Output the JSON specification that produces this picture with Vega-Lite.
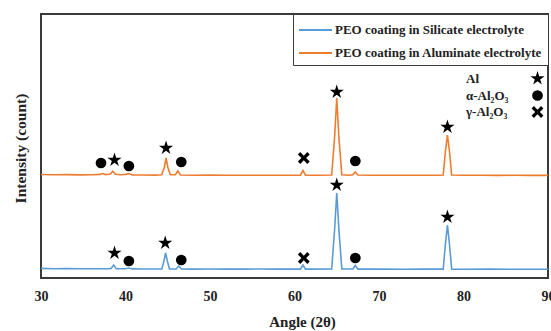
{
  "$schema": "https://vega.github.io/schema/vega-lite/v6.json",
  "width": 507,
  "height": 264,
  "autosize": {"type": "none"},
  "padding": {"left": 41, "top": 14, "right": 3, "bottom": 53},
  "background": "white",
  "config": {
    "view": {"stroke": "#3a3a3a", "strokeWidth": 2},
    "font": "Liberation Serif"
  },
  "datasets": {
    "spectra": [
      {"s": "PEO coating in Aluminate electrolyte", "a": 30, "i": 1025},
      {"s": "PEO coating in Aluminate electrolyte", "a": 31.5, "i": 1022},
      {"s": "PEO coating in Aluminate electrolyte", "a": 33, "i": 1024},
      {"s": "PEO coating in Aluminate electrolyte", "a": 34.5, "i": 1021},
      {"s": "PEO coating in Aluminate electrolyte", "a": 36, "i": 1023},
      {"s": "PEO coating in Aluminate electrolyte", "a": 37, "i": 1026},
      {"s": "PEO coating in Aluminate electrolyte", "a": 37.3, "i": 1035},
      {"s": "PEO coating in Aluminate electrolyte", "a": 37.6, "i": 1024},
      {"s": "PEO coating in Aluminate electrolyte", "a": 38.2, "i": 1030},
      {"s": "PEO coating in Aluminate electrolyte", "a": 38.5, "i": 1058},
      {"s": "PEO coating in Aluminate electrolyte", "a": 38.8, "i": 1028},
      {"s": "PEO coating in Aluminate electrolyte", "a": 39.5, "i": 1022},
      {"s": "PEO coating in Aluminate electrolyte", "a": 40, "i": 1026},
      {"s": "PEO coating in Aluminate electrolyte", "a": 40.4, "i": 1034},
      {"s": "PEO coating in Aluminate electrolyte", "a": 40.8, "i": 1020},
      {"s": "PEO coating in Aluminate electrolyte", "a": 42, "i": 1020},
      {"s": "PEO coating in Aluminate electrolyte", "a": 43.5, "i": 1019},
      {"s": "PEO coating in Aluminate electrolyte", "a": 44.3, "i": 1022},
      {"s": "PEO coating in Aluminate electrolyte", "a": 44.6, "i": 1100},
      {"s": "PEO coating in Aluminate electrolyte", "a": 44.8, "i": 1190},
      {"s": "PEO coating in Aluminate electrolyte", "a": 45.0, "i": 1100},
      {"s": "PEO coating in Aluminate electrolyte", "a": 45.3, "i": 1022},
      {"s": "PEO coating in Aluminate electrolyte", "a": 45.9, "i": 1022},
      {"s": "PEO coating in Aluminate electrolyte", "a": 46.2, "i": 1060},
      {"s": "PEO coating in Aluminate electrolyte", "a": 46.5, "i": 1020},
      {"s": "PEO coating in Aluminate electrolyte", "a": 48, "i": 1018},
      {"s": "PEO coating in Aluminate electrolyte", "a": 50, "i": 1019},
      {"s": "PEO coating in Aluminate electrolyte", "a": 52, "i": 1017},
      {"s": "PEO coating in Aluminate electrolyte", "a": 54, "i": 1018},
      {"s": "PEO coating in Aluminate electrolyte", "a": 56, "i": 1017},
      {"s": "PEO coating in Aluminate electrolyte", "a": 58, "i": 1018},
      {"s": "PEO coating in Aluminate electrolyte", "a": 60, "i": 1017},
      {"s": "PEO coating in Aluminate electrolyte", "a": 60.7, "i": 1018},
      {"s": "PEO coating in Aluminate electrolyte", "a": 61.0, "i": 1065},
      {"s": "PEO coating in Aluminate electrolyte", "a": 61.3, "i": 1018},
      {"s": "PEO coating in Aluminate electrolyte", "a": 62, "i": 1017},
      {"s": "PEO coating in Aluminate electrolyte", "a": 63, "i": 1018},
      {"s": "PEO coating in Aluminate electrolyte", "a": 64.4, "i": 1020},
      {"s": "PEO coating in Aluminate electrolyte", "a": 64.75, "i": 1400},
      {"s": "PEO coating in Aluminate electrolyte", "a": 65.0, "i": 1790},
      {"s": "PEO coating in Aluminate electrolyte", "a": 65.25, "i": 1400},
      {"s": "PEO coating in Aluminate electrolyte", "a": 65.6, "i": 1022},
      {"s": "PEO coating in Aluminate electrolyte", "a": 66.5, "i": 1018},
      {"s": "PEO coating in Aluminate electrolyte", "a": 66.9, "i": 1022},
      {"s": "PEO coating in Aluminate electrolyte", "a": 67.2, "i": 1050},
      {"s": "PEO coating in Aluminate electrolyte", "a": 67.5, "i": 1020},
      {"s": "PEO coating in Aluminate electrolyte", "a": 69, "i": 1017},
      {"s": "PEO coating in Aluminate electrolyte", "a": 71, "i": 1018},
      {"s": "PEO coating in Aluminate electrolyte", "a": 73, "i": 1017},
      {"s": "PEO coating in Aluminate electrolyte", "a": 75, "i": 1018},
      {"s": "PEO coating in Aluminate electrolyte", "a": 77, "i": 1017},
      {"s": "PEO coating in Aluminate electrolyte", "a": 77.6, "i": 1020},
      {"s": "PEO coating in Aluminate electrolyte", "a": 77.85, "i": 1250},
      {"s": "PEO coating in Aluminate electrolyte", "a": 78.1, "i": 1420},
      {"s": "PEO coating in Aluminate electrolyte", "a": 78.35, "i": 1250},
      {"s": "PEO coating in Aluminate electrolyte", "a": 78.6, "i": 1020},
      {"s": "PEO coating in Aluminate electrolyte", "a": 80, "i": 1017},
      {"s": "PEO coating in Aluminate electrolyte", "a": 82, "i": 1018},
      {"s": "PEO coating in Aluminate electrolyte", "a": 84, "i": 1016},
      {"s": "PEO coating in Aluminate electrolyte", "a": 86, "i": 1017},
      {"s": "PEO coating in Aluminate electrolyte", "a": 88, "i": 1016},
      {"s": "PEO coating in Aluminate electrolyte", "a": 90, "i": 1016},
      {"s": "PEO coating in Silicate electrolyte", "a": 30, "i": 86},
      {"s": "PEO coating in Silicate electrolyte", "a": 31.5, "i": 83},
      {"s": "PEO coating in Silicate electrolyte", "a": 33, "i": 84},
      {"s": "PEO coating in Silicate electrolyte", "a": 34.5, "i": 82},
      {"s": "PEO coating in Silicate electrolyte", "a": 36, "i": 83},
      {"s": "PEO coating in Silicate electrolyte", "a": 38, "i": 82},
      {"s": "PEO coating in Silicate electrolyte", "a": 38.3, "i": 86},
      {"s": "PEO coating in Silicate electrolyte", "a": 38.6, "i": 120},
      {"s": "PEO coating in Silicate electrolyte", "a": 38.9, "i": 84},
      {"s": "PEO coating in Silicate electrolyte", "a": 40, "i": 82},
      {"s": "PEO coating in Silicate electrolyte", "a": 40.4, "i": 90},
      {"s": "PEO coating in Silicate electrolyte", "a": 40.8, "i": 81},
      {"s": "PEO coating in Silicate electrolyte", "a": 42, "i": 80},
      {"s": "PEO coating in Silicate electrolyte", "a": 44.3, "i": 81},
      {"s": "PEO coating in Silicate electrolyte", "a": 44.55, "i": 160},
      {"s": "PEO coating in Silicate electrolyte", "a": 44.75, "i": 240},
      {"s": "PEO coating in Silicate electrolyte", "a": 44.95, "i": 160},
      {"s": "PEO coating in Silicate electrolyte", "a": 45.2, "i": 81},
      {"s": "PEO coating in Silicate electrolyte", "a": 46, "i": 80},
      {"s": "PEO coating in Silicate electrolyte", "a": 46.3, "i": 110},
      {"s": "PEO coating in Silicate electrolyte", "a": 46.6, "i": 80},
      {"s": "PEO coating in Silicate electrolyte", "a": 48, "i": 79},
      {"s": "PEO coating in Silicate electrolyte", "a": 50, "i": 80},
      {"s": "PEO coating in Silicate electrolyte", "a": 52, "i": 79},
      {"s": "PEO coating in Silicate electrolyte", "a": 54, "i": 79},
      {"s": "PEO coating in Silicate electrolyte", "a": 56, "i": 80},
      {"s": "PEO coating in Silicate electrolyte", "a": 58, "i": 79},
      {"s": "PEO coating in Silicate electrolyte", "a": 60, "i": 79},
      {"s": "PEO coating in Silicate electrolyte", "a": 60.7, "i": 79},
      {"s": "PEO coating in Silicate electrolyte", "a": 61.0, "i": 120},
      {"s": "PEO coating in Silicate electrolyte", "a": 61.3, "i": 79},
      {"s": "PEO coating in Silicate electrolyte", "a": 62, "i": 79},
      {"s": "PEO coating in Silicate electrolyte", "a": 64.4, "i": 80},
      {"s": "PEO coating in Silicate electrolyte", "a": 64.75, "i": 480},
      {"s": "PEO coating in Silicate electrolyte", "a": 65.0, "i": 840},
      {"s": "PEO coating in Silicate electrolyte", "a": 65.25, "i": 480},
      {"s": "PEO coating in Silicate electrolyte", "a": 65.6, "i": 80},
      {"s": "PEO coating in Silicate electrolyte", "a": 66.9, "i": 80},
      {"s": "PEO coating in Silicate electrolyte", "a": 67.2, "i": 115},
      {"s": "PEO coating in Silicate electrolyte", "a": 67.5, "i": 79},
      {"s": "PEO coating in Silicate electrolyte", "a": 70, "i": 79},
      {"s": "PEO coating in Silicate electrolyte", "a": 73, "i": 78},
      {"s": "PEO coating in Silicate electrolyte", "a": 75, "i": 79},
      {"s": "PEO coating in Silicate electrolyte", "a": 77.6, "i": 79},
      {"s": "PEO coating in Silicate electrolyte", "a": 77.85, "i": 320},
      {"s": "PEO coating in Silicate electrolyte", "a": 78.1, "i": 520},
      {"s": "PEO coating in Silicate electrolyte", "a": 78.35, "i": 320},
      {"s": "PEO coating in Silicate electrolyte", "a": 78.6, "i": 79},
      {"s": "PEO coating in Silicate electrolyte", "a": 80, "i": 78},
      {"s": "PEO coating in Silicate electrolyte", "a": 83, "i": 79},
      {"s": "PEO coating in Silicate electrolyte", "a": 86, "i": 78},
      {"s": "PEO coating in Silicate electrolyte", "a": 90, "i": 78}
    ],
    "markers": [
      {"phase": "α-Al₂O₃", "a": 37.1, "i": 1140},
      {"phase": "Al", "a": 38.7, "i": 1170},
      {"phase": "α-Al₂O₃", "a": 40.4, "i": 1110},
      {"phase": "Al", "a": 44.8, "i": 1290},
      {"phase": "α-Al₂O₃", "a": 46.6, "i": 1150},
      {"phase": "γ-Al₂O₃", "a": 61.1, "i": 1190},
      {"phase": "Al", "a": 65.0, "i": 1850},
      {"phase": "α-Al₂O₃", "a": 67.2, "i": 1160},
      {"phase": "Al", "a": 78.1, "i": 1500},
      {"phase": "Al", "a": 38.7, "i": 240},
      {"phase": "α-Al₂O₃", "a": 40.4, "i": 160},
      {"phase": "Al", "a": 44.7, "i": 340},
      {"phase": "α-Al₂O₃", "a": 46.6, "i": 170},
      {"phase": "γ-Al₂O₃", "a": 61.1, "i": 190},
      {"phase": "Al", "a": 65.0, "i": 920},
      {"phase": "α-Al₂O₃", "a": 67.2, "i": 190},
      {"phase": "Al", "a": 78.1, "i": 600}
    ]
  },
  "layer": [
    {
      "data": {"name": "spectra"},
      "mark": {"type": "line", "strokeWidth": 1.6, "interpolate": "linear"},
      "encoding": {
        "x": {
          "field": "a", "type": "quantitative",
          "scale": {"domain": [30, 90], "nice": false, "zero": false},
          "axis": {
            "title": "Angle (2θ)", "values": [30, 40, 50, 60, 70, 80, 90],
            "domain": false, "ticks": false, "grid": false,
            "labelFont": "Liberation Serif", "labelFontWeight": "bold", "labelFontSize": 14,
            "labelColor": "#222", "labelPadding": 11, "labelFlush": false,
            "titleFont": "Liberation Serif", "titleFontWeight": "bold", "titleFontSize": 15,
            "titleColor": "#222", "titlePadding": 11, "titleX": 261
          }
        },
        "y": {
          "field": "i", "type": "quantitative",
          "scale": {"domain": [-10, 2630], "nice": false, "zero": false},
          "axis": {
            "title": "Intensity (count)", "labels": false, "ticks": false, "domain": false, "grid": false,
            "titleFont": "Liberation Serif", "titleFontWeight": "bold", "titleFontSize": 15.5,
            "titleColor": "#222", "titleX": -13, "titleY": 134, "titleBaseline": "bottom", "titleAlign": "center", "titleAngle": -90
          }
        },
        "color": {
          "field": "s", "type": "nominal",
          "scale": {
            "domain": ["PEO coating in Silicate electrolyte", "PEO coating in Aluminate electrolyte"],
            "range": ["#5b9bd5", "#ed7d31"]
          },
          "legend": {
            "title": null, "orient": "top-right", "offset": 0,
            "strokeColor": "#3a3a3a", "padding": 5, "fillColor": "white",
            "symbolType": "M-1,0L2.3,0", "symbolSize": 400, "symbolStrokeWidth": 2,
            "rowPadding": 5, "labelOffset": 15,
            "labelFont": "Liberation Serif", "labelFontWeight": "bold", "labelFontSize": 13,
            "labelColor": "#222", "labelLimit": 300
          }
        }
      }
    },
    {
      "data": {"name": "markers"},
      "mark": {"type": "point", "filled": true, "opacity": 1, "color": "black"},
      "encoding": {
        "x": {"field": "a", "type": "quantitative"},
        "y": {"field": "i", "type": "quantitative"},
        "size": {
          "field": "phase", "type": "nominal",
          "scale": {"type": "ordinal", "domain": ["Al", "α-Al₂O₃", "γ-Al₂O₃"], "range": [220, 115, 140]},
          "legend": {
            "title": null, "orient": "none", "legendX": 488, "legendY": 56,
            "padding": 0, "rowPadding": -1,
            "symbolFillColor": "black", "symbolStrokeColor": "black",
            "labelOffset": -80, "labelAlign": "left",
            "labelFont": "Liberation Serif", "labelFontWeight": "bold", "labelFontSize": 13,
            "labelColor": "#222"
          }
        },
        "shape": {
          "field": "phase", "type": "nominal",
          "scale": {
            "domain": ["Al", "α-Al₂O₃", "γ-Al₂O₃"],
            "range": ["M0,-1L0.2245,-0.309L0.951,-0.309L0.363,0.118L0.588,0.809L0,0.382L-0.588,0.809L-0.363,0.118L-0.951,-0.309L-0.2245,-0.309Z", "circle", "M-1,-0.6L-0.6,-1L0,-0.4L0.6,-1L1,-0.6L0.4,0L1,0.6L0.6,1L0,0.4L-0.6,1L-1,0.6L-0.4,0Z"]
          },
          "legend": {
            "title": null, "orient": "none", "legendX": 488, "legendY": 56,
            "padding": 0, "rowPadding": -1,
            "symbolFillColor": "black", "symbolStrokeColor": "black",
            "labelOffset": -80, "labelAlign": "left",
            "labelFont": "Liberation Serif", "labelFontWeight": "bold", "labelFontSize": 13,
            "labelColor": "#222"
          }
        }
      }
    }
  ]
}
